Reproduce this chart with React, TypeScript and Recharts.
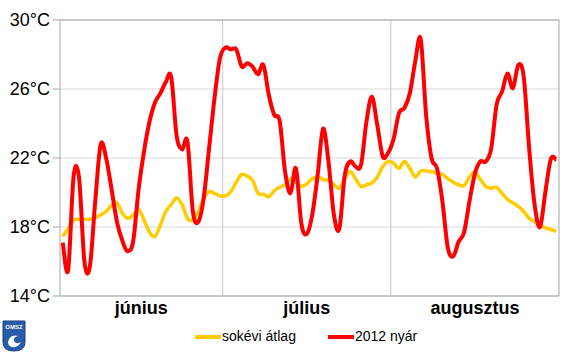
import React from 'react';
import { LineChart, Line, XAxis, YAxis, CartesianGrid, ReferenceLine } from 'recharts';

const MONTHS = ['június', 'július', 'augusztus'];
const MONTH_CENTERS = [15, 45.5, 76.5];
const MONTH_BOUNDS = [30, 61];
const Y_TICKS = [14, 18, 22, 26, 30];

// long-term average (sokévi átlag), daily, June 1 - Aug 31
const avgTemps = [
    17.45, 17.9, 18.4, 18.45, 18.45, 18.45, 18.55, 18.7, 18.9, 19.25,
    19.4, 18.8, 18.5, 18.7, 19.0, 18.4, 17.7, 17.45, 18.1, 18.9,
    19.3, 19.7, 19.3, 18.5, 18.4, 18.9, 19.65, 20.05, 19.95, 19.8,
    19.8, 20.05, 20.6, 21.05, 20.95, 20.7, 19.95, 19.9, 19.75, 20.1,
    20.3, 20.45, 20.8, 20.6, 20.35, 20.5, 20.8, 20.9, 20.75, 20.7,
    20.45, 20.25, 20.8, 21.2, 20.8, 20.35, 20.45, 20.55, 20.9, 21.5,
    21.8, 21.7, 21.4, 21.8, 21.4, 20.9, 21.25, 21.25, 21.2, 21.1,
    21.05, 20.8, 20.6, 20.45, 20.4, 20.9, 21.2, 20.75, 20.35, 20.25,
    20.3, 19.95, 19.6, 19.4, 19.2, 18.9, 18.5, 18.3, 18.1, 17.95,
    17.85, 17.75,
];

// summer 2012 (2012 nyár)
const temps2012 = [
    17.1, 15.5, 20.9, 20.9, 16.0, 15.7, 19.5, 22.8, 22.0, 20.2,
    18.3, 17.2, 16.6, 17.2, 20.2, 22.4, 24.1, 25.2, 25.75, 26.4,
    26.7, 23.3, 22.5, 22.95, 18.9, 18.3, 19.7, 22.6, 25.5, 27.8,
    28.4, 28.3, 28.3, 27.3, 27.5, 27.3, 26.85, 27.4, 25.65, 24.5,
    24.15, 21.2, 19.95, 21.4, 18.2, 17.6, 18.7, 21.0, 23.7, 21.8,
    18.7, 17.9, 21.0, 21.8, 21.5, 21.6, 24.1, 25.55, 23.9, 22.1,
    22.3, 23.1, 24.6, 24.9, 25.75, 27.6, 28.9, 24.5, 22.0, 21.4,
    19.5, 16.8, 16.3, 17.15, 17.7, 19.5, 21.1, 21.8, 21.8, 22.55,
    25.1, 25.85, 26.9, 26.05, 27.4, 26.7, 22.55, 19.3, 18.0, 20.05,
    21.95, 21.9,
];

const data = avgTemps.map((v, i) => ({ day: i + 0.5, avg: v, y2012: temps2012[i] }));

const FONT = '"Liberation Sans", Arial, sans-serif';

// spreadsheet-style smoothed line (Catmull-Rom through every point)
function smoothCurve(context: any) {
    let pts: number[][] = [];
    return {
        areaStart() {},
        areaEnd() {},
        lineStart() { pts = []; },
        point(x: number, y: number) { pts.push([+x, +y]); },
        lineEnd() {
            if (!pts.length) return;
            context.moveTo(pts[0][0], pts[0][1]);
            for (let i = 0; i < pts.length - 1; i++) {
                const p0 = pts[i - 1] || pts[i];
                const p1 = pts[i];
                const p2 = pts[i + 1];
                const p3 = pts[i + 2] || p2;
                context.bezierCurveTo(
                    p1[0] + (p2[0] - p0[0]) / 6, p1[1] + (p2[1] - p0[1]) / 6,
                    p2[0] - (p3[0] - p1[0]) / 6, p2[1] - (p3[1] - p1[1]) / 6,
                    p2[0], p2[1],
                );
            }
        },
    };
}

function Logo() {
    return (
        <svg width={24} height={32} style={{ position: 'absolute', left: 2, top: 320 }}>
            <path d="M1 1 H23 V22 Q23 31 12 31 Q1 31 1 22 Z" fill="#2a5caa" stroke="#1b3f80" />
            <text x={12} y={9} textAnchor="middle" fontSize={6} fontWeight="bold" fill="#fff" fontFamily={FONT}>OMSZ</text>
            <path d="M6 22 Q8 14 16 16 Q11 17 12 21 Q14 25 19 22 Q16 28 10 27 Q6 26 6 22 Z" fill="#fff" />
        </svg>
    );
}

export default function App() {
    return (
        <div style={{ position: 'fixed', left: 0, top: 0, width: 576, height: 353, background: '#fff', fontFamily: FONT }}>
            <LineChart width={576} height={353} data={data} margin={{ top: 20, right: 17, bottom: 27, left: 0 }}>
                <CartesianGrid vertical={false} stroke="#d9d9d9" />
                <XAxis
                    type="number"
                    dataKey="day"
                    domain={[0, 92]}
                    ticks={MONTH_CENTERS}
                    tickFormatter={(v: number) => MONTHS[MONTH_CENTERS.indexOf(v)] || ''}
                    tickLine={false}
                    tickSize={0}
                    tickMargin={5}
                    height={30}
                    axisLine={{ stroke: '#a6a6a6' }}
                    tick={{ fontSize: 18, fontWeight: 'bold', fill: '#000', fontFamily: FONT }}
                    interval={0}
                />
                <YAxis
                    domain={[14, 30]}
                    ticks={Y_TICKS}
                    tickFormatter={(v: number) => `${v}°C`}
                    width={60}
                    tickSize={7}
                    tickMargin={3}
                    axisLine={{ stroke: '#a6a6a6' }}
                    tickLine={{ stroke: '#a6a6a6' }}
                    tick={{ fontSize: 18, fill: '#000', fontFamily: FONT }}
                    interval={0}
                />
                {MONTH_BOUNDS.map((b) => (
                    <ReferenceLine key={b} x={b} stroke="#c8c8c8" />
                ))}
                <ReferenceLine y={30} stroke="#a6a6a6" />
                <ReferenceLine x={92} stroke="#a6a6a6" />
                <Line type={smoothCurve as any} dataKey="avg" stroke="#ffcc00" strokeWidth={3.5} dot={false} isAnimationActive={false} />
                <Line type={smoothCurve as any} dataKey="y2012" stroke="#ff0000" strokeWidth={4} dot={false} isAnimationActive={false} />
            </LineChart>

            <div style={{ position: 'absolute', left: 195, top: 335, width: 26, height: 4, background: '#ffcc00' }} />
            <div style={{ position: 'absolute', left: 222, top: 328, fontSize: 14, color: '#000' }}>sokévi átlag</div>
            <div style={{ position: 'absolute', left: 328, top: 335, width: 26, height: 4, background: '#ff0000' }} />
            <div style={{ position: 'absolute', left: 355, top: 328, fontSize: 14, color: '#000' }}>2012 nyár</div>
            <Logo />
        </div>
    );
}
